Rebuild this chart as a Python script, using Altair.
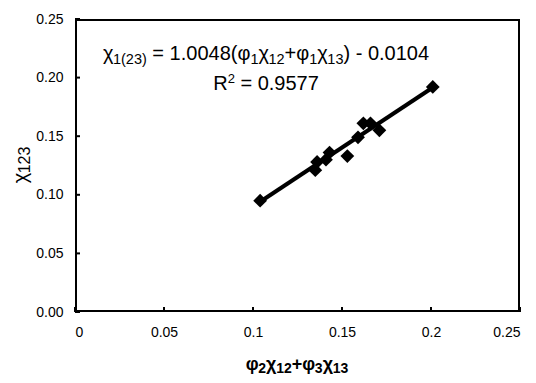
import altair as alt
import pandas as pd

# ---- data ----
x_vals = [0.104, 0.135, 0.136, 0.141, 0.143, 0.153, 0.159, 0.162, 0.166, 0.171, 0.201]
y_vals = [0.095, 0.121, 0.128, 0.130, 0.136, 0.133, 0.149, 0.161, 0.161, 0.155, 0.192]
slope = 1.0048
intercept = -0.0104
x_ticks = [0, 0.05, 0.1, 0.15, 0.2, 0.25]
y_ticks = [0, 0.05, 0.1, 0.15, 0.2, 0.25]
x_domain = [0, 0.25]
y_domain = [0, 0.25]
# text pieces: (text, role) role N = normal, S = subscript, P = superscript
eq_line1 = [("χ", "N"), ("1(23)", "S"), (" = 1.0048(φ", "N"), ("1", "S"), ("χ", "N"), ("12", "S"),
            ("+φ", "N"), ("1", "S"), ("χ", "N"), ("13", "S"), (") - 0.0104", "N")]
eq_line2 = [("R", "N"), ("2", "P"), (" = 0.9577", "N")]
x_title = [("φ", "N"), ("2", "S"), ("χ", "N"), ("12", "S"), ("+", "N"), ("φ", "N"), ("3", "S"),
           ("χ", "N"), ("13", "S")]
y_title = [("χ", "N"), ("123", "S")]

FONT = "Liberation Sans"
W, H = 445, 293
TICK = 5  # tick length, px

# approximate Arial / Liberation Sans advance widths (em) used only to lay text pieces side by side
WID = {" ": .278, "=": .584, "+": .584, "-": .333, "(": .333, ")": .333, ".": .278, "R": .722,
       "χ": .5, "φ": .65}
WID_B = {"+": .584, "χ": .56, "φ": .70}


def width(s, size, bold=False):
    tot = 0.0
    for c in s:
        if c.isdigit():
            tot += .556
        else:
            tot += (WID_B.get(c) if bold and c in WID_B else WID.get(c, .556))
    return tot * size


XR = x_domain[1] - x_domain[0]
YR = y_domain[1] - y_domain[0]


def px2x(p):
    return x_domain[0] + p / W * XR


def py2y(p):
    return y_domain[1] - p / H * YR


def layout(pieces, center, base, nsize, ssize, sub_dy, sup_dy, bold=False, vertical=False):
    sizes = {"N": nsize, "S": ssize, "P": ssize}
    shift = {"N": 0, "S": sub_dy, "P": -sup_dy}
    total = sum(width(t, sizes[r], bold) for t, r in pieces)
    pos = center - total / 2 if not vertical else center + total / 2
    rows = []
    for t, r in pieces:
        w = width(t, sizes[r], bold)
        lead = width(t[:len(t) - len(t.lstrip())], sizes[r], bold)  # Vega trims edge spaces
        shown = t.strip()
        if vertical:
            px, py = base + shift[r], pos - lead
            pos -= w
        else:
            px, py = pos + lead, base + shift[r]
            pos += w
        rows.append({"t": shown, "x": px2x(px), "y": py2y(py), "fs": sizes[r]})
    return pd.DataFrame(rows)


pts = pd.DataFrame({"x": x_vals, "y": y_vals})
xmin, xmax = min(x_vals), max(x_vals)
fit = pd.DataFrame({"x": [xmin, xmax], "y": [slope * xmin + intercept, slope * xmax + intercept]})

xscale = alt.Scale(domain=x_domain, nice=False, zero=False)
yscale = alt.Scale(domain=y_domain, nice=False, zero=False)

xaxis = alt.Axis(values=x_ticks, format="~g", grid=False, domain=False, ticks=False,
                 labelPadding=13, labelFontSize=14, labelFont=FONT, labelColor="black", title=None)
yaxis = alt.Axis(values=y_ticks, format=".2f", grid=False, domain=False, ticks=False,
                 labelPadding=12, labelFontSize=14, labelFont=FONT, labelColor="black", title=None)

# plot frame as a closed line around the domain; clipped so only the inner half of the stroke shows
frame_df = pd.DataFrame({
    "x": [x_domain[0], x_domain[1], x_domain[1], x_domain[0], x_domain[0]],
    "y": [y_domain[0], y_domain[0], y_domain[1], y_domain[1], y_domain[0]],
    "o": [0, 1, 2, 3, 4],
})
frame = alt.Chart(frame_df).mark_line(color="black", strokeWidth=4, strokeCap="square",
                                      strokeJoin="miter", clip=True).encode(
    x=alt.X("x:Q", scale=xscale, axis=xaxis),
    y=alt.Y("y:Q", scale=yscale, axis=yaxis),
    order="o:Q",
)

# inward tick marks as short line segments
tick_rows = []
for i, v in enumerate(x_ticks):
    tick_rows += [{"x": v, "y": y_domain[0], "id": f"x{i}"},
                  {"x": v, "y": y_domain[0] + TICK / H * YR, "id": f"x{i}"}]
for i, v in enumerate(y_ticks):
    tick_rows += [{"x": x_domain[0], "y": v, "id": f"y{i}"},
                  {"x": x_domain[0] + TICK / W * XR, "y": v, "id": f"y{i}"}]
ticks = alt.Chart(pd.DataFrame(tick_rows)).mark_line(color="black", strokeWidth=2).encode(
    x=alt.X("x:Q", scale=xscale),
    y=alt.Y("y:Q", scale=yscale),
    detail="id:N",
)

line = alt.Chart(fit).mark_line(color="black", strokeWidth=4).encode(
    x=alt.X("x:Q", scale=xscale),
    y=alt.Y("y:Q", scale=yscale),
)
points = alt.Chart(pts).mark_point(shape="diamond", filled=True, color="black", size=190, opacity=1).encode(
    x=alt.X("x:Q", scale=xscale),
    y=alt.Y("y:Q", scale=yscale),
)


def text_layers(df, bold=False, angle=0):
    out = []
    for fs, sub in df.groupby("fs"):
        out.append(alt.Chart(sub).mark_text(font=FONT, fontSize=float(fs), color="black", align="left",
                                            baseline="alphabetic", fontWeight="bold" if bold else "normal",
                                            angle=angle).encode(
            x=alt.X("x:Q", scale=xscale),
            y=alt.Y("y:Q", scale=yscale),
            text="t:N",
        ))
    return out


texts = (text_layers(layout(eq_line1, 191, 41, 20, 14.5, 4, 7))
         + text_layers(layout(eq_line2, 191, 71, 20, 13, 4, 7))
         + text_layers(layout(x_title, 222, 351, 18, 14, 3, 0, bold=True), bold=True)
         + text_layers(layout(y_title, 146, -48, 20, 16, 3, 0, vertical=True), angle=270))

chart = alt.layer(frame, ticks, line, points, *texts).properties(
    width=W, height=H,
    autosize=alt.AutoSizeParams(type="none"),
    padding={"left": 67, "top": 11, "right": 8, "bottom": 63},
    background="white",
).configure_view(strokeWidth=0)

chart.save("out.html", embed_options={"renderer": "svg", "actions": False})
